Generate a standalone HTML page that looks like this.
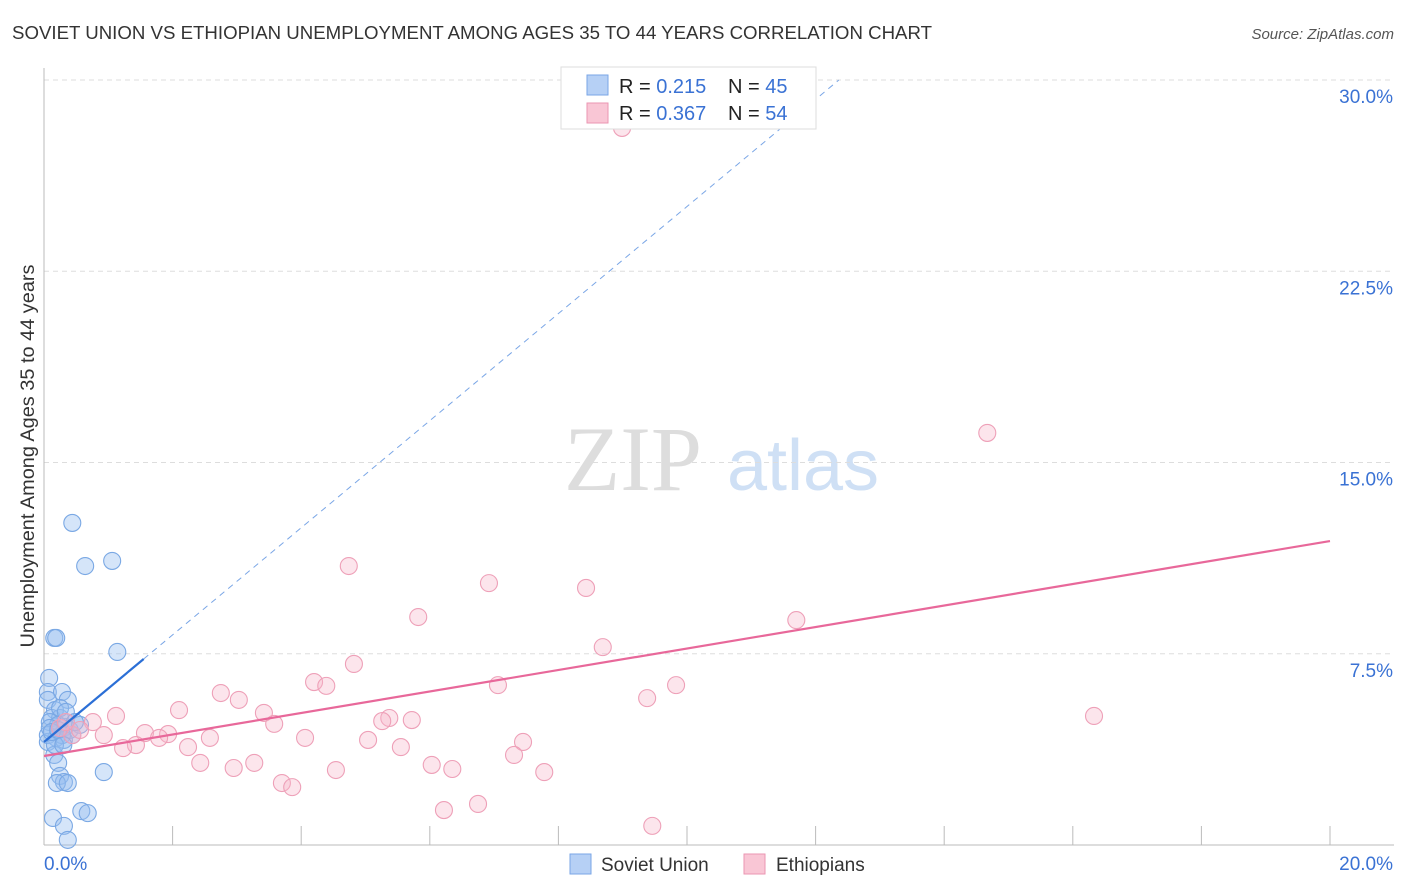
<!DOCTYPE html>
<html><head><meta charset="utf-8"><style>
body{margin:0;background:#fff;font-family:"Liberation Sans",sans-serif;}
svg{display:block}
</style></head><body>
<svg id="chart" width="1406" height="892">
<text x="12" y="39" font-size="18" textLength="920" lengthAdjust="spacingAndGlyphs" fill="#333">SOVIET UNION VS ETHIOPIAN UNEMPLOYMENT AMONG AGES 35 TO 44 YEARS CORRELATION CHART</text>
<text x="1394" y="39" font-size="15" fill="#555" font-style="italic" text-anchor="end">Source: ZipAtlas.com</text>
<g>
<text x="633" y="490" font-size="92" font-family="Liberation Serif,serif" fill="#ddd" text-anchor="middle">ZIP</text>
<text x="803" y="490" font-size="72" fill="#cfe0f5" text-anchor="middle">atlas</text>
</g>
<g id="grid"></g>
<g id="axes"></g>
<g id="marks"></g>
<text transform="translate(34,456) rotate(-90)" font-size="19" textLength="383" lengthAdjust="spacingAndGlyphs" fill="#333" text-anchor="middle">Unemployment Among Ages 35 to 44 years</text>
<g>
<rect x="561" y="67" width="255" height="62" fill="#fff" stroke="#ddd"/>
<rect x="587" y="75" width="21" height="20" fill="#b6d0f5" stroke="#7aa6e6"/>
<rect x="587" y="103" width="21" height="20" fill="#f9c6d5" stroke="#eb96b2"/>
<text x="619" y="93" font-size="20" fill="#222">R = <tspan fill="#3a72d4">0.215</tspan><tspan x="728">N = </tspan><tspan fill="#3a72d4">45</tspan></text>
<text x="619" y="120" font-size="20" fill="#222">R = <tspan fill="#3a72d4">0.367</tspan><tspan x="728">N = </tspan><tspan fill="#3a72d4">54</tspan></text>
</g>
<g>
<rect x="570" y="854" width="21" height="20" fill="#b6d0f5" stroke="#7aa6e6"/>
<text x="601" y="871" font-size="19" fill="#333">Soviet Union</text>
<rect x="744" y="854" width="21" height="20" fill="#f9c6d5" stroke="#eb96b2"/>
<text x="776" y="871" font-size="19" fill="#333">Ethiopians</text>
</g>
</svg>
<script>
const yTicks=[7.5,15,22.5,30];
const yTickLabels=["7.5%","15.0%","22.5%","30.0%"];
const xTickLabels=["0.0%","20.0%"];
const sovietX=[0.44,0.64,1.06,0.16,0.19,1.14,0.08,0.06,0.28,0.37,0.06,0.17,0.12,0.25,0.09,0.22,0.33,0.40,0.06,0.19,0.31,0.56,0.06,0.16,0.22,0.93,0.25,0.31,0.2,0.37,0.14,0.31,0.58,0.68,0.37,0.28,0.17,0.44,0.09,0.25,0.34,0.48,0.12,0.22,0.30];
const sovietY=[12.63,10.94,11.14,8.12,8.12,7.57,6.55,6.0,6.0,5.69,5.69,5.29,4.98,4.98,4.82,4.71,4.63,4.51,4.31,4.2,4.12,4.71,4.04,3.53,3.22,2.86,2.71,2.47,2.43,2.43,1.06,0.75,1.33,1.25,0.2,4.31,3.92,4.31,4.59,5.37,5.22,4.82,4.43,4.51,3.92];
const ethX=[8.99,14.67,4.74,6.92,8.43,5.82,11.70,8.69,4.82,4.2,4.39,7.06,9.83,2.75,3.03,9.38,2.1,3.42,1.12,16.33,0.76,3.58,5.37,5.26,5.72,1.57,1.93,0.93,2.58,4.06,1.79,5.04,7.45,1.43,1.23,2.24,5.55,7.31,2.43,3.27,2.95,6.03,6.35,4.54,7.78,3.7,3.86,6.75,6.22,9.46,0.44,0.25,0.34,0.56];
const ethY=[28.12,16.16,10.94,10.27,10.08,8.94,8.82,7.76,7.1,6.39,6.24,6.27,6.27,5.96,5.69,5.76,5.29,5.18,5.06,5.06,4.82,4.75,4.98,4.86,4.9,4.39,4.35,4.31,4.2,4.2,4.2,4.12,4.04,3.92,3.8,3.84,3.84,3.53,3.22,3.22,3.02,3.14,2.98,2.94,2.86,2.43,2.27,1.61,1.37,0.75,4.31,4.59,4.82,4.51];
const sovietTrend=[4.04,2.1,1.55]; // intercept, slope, solid extent
const ethTrend=[3.49,0.4215];

const X=v=>44+v*64.3, Y=v=>845-v*25.5;
const NS="http://www.w3.org/2000/svg";
function mk(p,t,a){const e=document.createElementNS(NS,t);for(const k in a)e.setAttribute(k,a[k]);p.appendChild(e);return e;}
const grid=document.getElementById('grid'),axes=document.getElementById('axes'),marks=document.getElementById('marks');
yTicks.forEach((t,i)=>{
 const l=mk(grid,'line',{x1:44,x2:1394,y1:Y(t),y2:Y(t),stroke:'#ddd','stroke-dasharray':'5,4'});
 
 
 const tx=mk(axes,'text',{x:1393,y:Y(t)+23,'font-size':19,fill:'#3a72d4','text-anchor':'end'});
 tx.textContent=yTickLabels[i];
 
 
});
mk(axes,'line',{x1:44,x2:44,y1:68,y2:845,stroke:'#bbb'});
mk(axes,'line',{x1:44,x2:1394,y1:845,y2:845,stroke:'#bbb'});
for(let i=1;i<=10;i++){const t=mk(axes,'line',{x1:X(i*2),x2:X(i*2),y1:826,y2:845,stroke:'#bbb'});
 
 }
[0,20].forEach((v,i)=>{const tx=mk(axes,'text',{x:i?1393:44,y:870,'font-size':19,fill:'#3a72d4','text-anchor':i?'end':'start'});
 tx.textContent=xTickLabels[i];
 
 });
sovietX.forEach((x,i)=>{const c=mk(marks,'circle',{cx:X(x),cy:Y(sovietY[i]),r:8.5,fill:'rgba(150,190,240,0.4)',stroke:'#7aa8e4','stroke-width':1.1});
 
 });
ethX.forEach((x,i)=>{const c=mk(marks,'circle',{cx:X(x),cy:Y(ethY[i]),r:8.5,fill:'rgba(246,180,200,0.35)',stroke:'#eea0b8','stroke-width':1.1});
 
 });
const [b0,b1,bs]=sovietTrend, xEnd=(30-b0)/b1;
let l=mk(marks,'line',{x1:X(bs),y1:Y(b0+b1*bs),x2:X(xEnd),y2:Y(30),stroke:'#7aa6e6','stroke-dasharray':'6,5','stroke-width':1});


l=mk(marks,'line',{x1:X(0),y1:Y(b0),x2:X(bs),y2:Y(b0+b1*bs),stroke:'#2b6fd6','stroke-width':2.2});


l=mk(marks,'line',{x1:X(0),y1:Y(ethTrend[0]),x2:X(20),y2:Y(ethTrend[0]+ethTrend[1]*20),stroke:'#e8689a','stroke-width':2.2});


</script>
</body></html>
